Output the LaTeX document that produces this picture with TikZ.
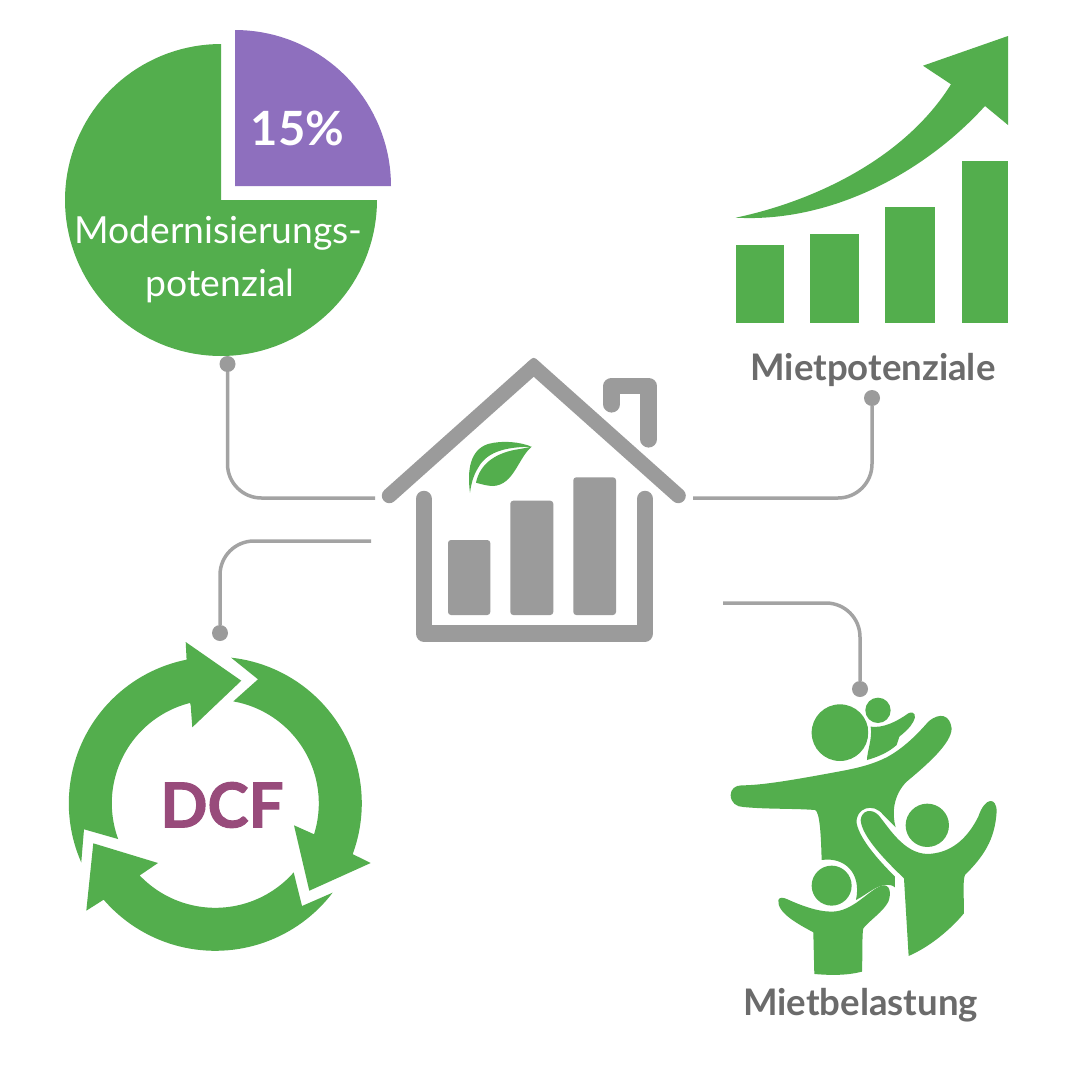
\documentclass[tikz,border=0pt]{standalone}
\usepackage{fontspec}
\setmainfont{Lato}
\newfontfamily\dcffont[FakeBold=1.6]{Lato Bold}
\definecolor{leafgreen}{HTML}{53AE4D}
\definecolor{pieviolet}{HTML}{8E6FBE}
\definecolor{dcfplum}{HTML}{984B7B}
\definecolor{labelgrey}{HTML}{6B6B6B}
\definecolor{housegrey}{HTML}{9B9B9B}
\definecolor{linegrey}{HTML}{A3A3A3}
\tikzset{
  conn/.style={draw=linegrey,line width=3.5pt,rounded corners=34pt},
  enddot/.style={circle,fill=housegrey,inner sep=0pt,minimum size=16pt},
  greenfill/.style={fill=leafgreen,draw=none},
  greybar/.style={fill=housegrey,draw=none,rounded corners=3pt},
  housestroke/.style={draw=housegrey,line cap=round,line join=round},
  boldlabel/.style={font=\bfseries\fontsize{36.6}{42}\selectfont,text=labelgrey,inner sep=0pt},
  pielabel/.style={font=\fontsize{37.3}{44}\selectfont,text=white,inner sep=0pt},
  haloed/.style={preaction={draw=white,line width=5.4pt,line join=round},fill=leafgreen}
}
\begin{document}
\begin{tikzpicture}[x=1pt,y=-1pt]
\useasboundingbox[fill=white] (0,0) rectangle (1080,1080);

% pie
\fill[greenfill] (221,200) -- plot[domain=-90:-360,samples=109] ({221+156*cos(\x)},{200+156*sin(\x)}) -- cycle;
\fill[fill=pieviolet] (235,186) -- plot[domain=-90:0,samples=37] ({235+156*cos(\x)},{186+156*sin(\x)}) -- cycle;
\node[font=\bfseries\fontsize{47.2}{52}\selectfont,text=white,inner sep=0pt] (pct) at (297.5,128) {15\%};
\node[pielabel] (mod1) at (218.5,233) {Modernisierungs-};
\node[pielabel] (mod2) at (220,286) {potenzial};

% rising chart
\fill[greenfill] (736,245) rectangle (784,323);
\fill[greenfill] (810,234) rectangle (859,323);
\fill[greenfill] (885,207) rectangle (935,323);
\fill[greenfill] (962,161) rectangle (1008,323);
\fill[greenfill] (735.7,217.7) .. controls (815,201) and (905,158) .. (951,84.3)
  -- (923,65.7) -- (1008,36) -- (1008,125) -- (985,106)
  .. controls (928,169) and (835,223) .. (735.7,217.7) -- cycle;
\node[boldlabel] (miet) at (873,370) {Mietpotenziale};

% house
\draw[housestroke,line width=15pt] (389.3,495.7) -- (533.7,366.7) -- (678.3,495.7);
\fill[housegrey,rounded corners=3.5pt] (524,366) -- (533.7,356.4) -- (543.4,366) -- cycle;
\draw[housestroke,line width=16.5pt] (423.8,499) -- (423.8,633.3) -- (645,633.3) -- (645,499);
\draw[housestroke,line width=16.5pt] (611.7,404.3) -- (611.7,386) -- (648.7,386) -- (648.7,439.3);
\fill[greybar] (448,540) rectangle (490.3,615);
\fill[greybar] (510.3,500.7) rectangle (553.3,615);
\fill[greybar] (573.3,477.3) rectangle (616,615);
\fill[greenfill] (470,492.7) .. controls (467,470) and (470,450) .. (488,444)
  .. controls (503,440) and (520,442) .. (531.7,446.7)
  .. controls (512,447) and (488,449) .. (478,468)
  .. controls (473,476) and (471,485) .. (470,492.7) -- cycle;
\fill[greenfill] (476,482.7) .. controls (480,463) and (497,452) .. (520,449)
  -- (531.7,446.7)
  .. controls (518,458) and (514,485) .. (493,486)
  .. controls (487,486) and (481,484) .. (476,482.7) -- cycle;

% DCF cycle
\fill[greenfill] plot[domain=156.2:258.7,samples=50] ({215.3+146.5*cos(\x)},{803.3+146.5*sin(\x)})
  -- (185.7,642) -- (241.3,680.7) -- (192.3,727.3) -- (190.7,705.3)
  -- plot[domain=255.9:159.8,samples=50] ({215.3+103.5*cos(\x)},{803.3+103.5*sin(\x)})
  -- (84,829.3) -- cycle;
\fill[greenfill] plot[domain=-83.8:20.3,samples=50] ({215.3+146.5*cos(\x)},{803.3+146.5*sin(\x)})
  -- (370.7,863) -- (309.3,890.7) -- (294,825.3) -- (315,834.7)
  -- plot[domain=17.5:-80,samples=50] ({215.3+103.5*cos(\x)},{803.3+103.5*sin(\x)})
  -- (258,679.3) -- cycle;
\fill[greenfill] plot[domain=37.3:139.2,samples=50] ({215.3+147.5*cos(\x)},{803.3+147.5*sin(\x)})
  -- (86.3,910.7) -- (93.3,843.3) -- (158,863) -- (139.3,875.7)
  -- plot[domain=136.4:41.4,samples=50] ({215.3+104.5*cos(\x)},{803.3+104.5*sin(\x)})
  -- (302,906) -- cycle;
\node[font=\dcffont\fontsize{62}{66}\selectfont,text=dcfplum,inner sep=0pt] (dcf) at (222,805) {DCF};

% family
\begin{scope}[shift={(720,680)},x=0.3333pt,y=-0.3333pt]
  \fill[greenfill] (360,158) circle (85);
  \path[haloed] (441,240) .. controls (441,215) and (458,175) .. (452,140)
    .. controls (490,145) and (530,125) .. (565,100)
    .. controls (585,90) and (590,110) .. (580,125)
    .. controls (570,145) and (550,160) .. (538,170)
    .. controls (532,178) and (536,188) .. (530,195)
    .. controls (505,218) and (470,232) .. (441,240) -- cycle;
  \path[haloed] (474,91) circle (38);
  \fill[greenfill] (65,316) .. controls (45,316) and (32,328) .. (32,345)
    .. controls (32,368) and (50,381) .. (70,381)
    .. controls (140,388) and (220,385) .. (285,390)
    .. controls (300,395) and (303,470) .. (305,540)
    .. controls (375,530) and (425,580) .. (408,660)
    .. controls (440,645) and (490,595) .. (525,622)
    -- (525,590)
    .. controls (480,545) and (420,480) .. (410,430)
    .. controls (405,385) and (460,365) .. (490,405)
    -- (527,442)
    .. controls (515,400) and (520,345) .. (560,305)
    .. controls (620,255) and (695,190) .. (695,145)
    .. controls (690,105) and (660,95) .. (625,125)
    .. controls (590,165) and (550,205) .. (500,232)
    .. controls (440,262) and (380,270) .. (300,285)
    .. controls (200,303) and (120,316) .. (65,316) -- cycle;
  \fill[greenfill] (622,436) circle (65);
  \fill[greenfill] (422,420) .. controls (425,390) and (455,385) .. (475,405)
    .. controls (505,440) and (550,520) .. (622,522)
    .. controls (690,520) and (740,480) .. (775,410)
    .. controls (795,350) and (830,350) .. (830,395)
    .. controls (825,480) and (790,530) .. (735,585)
    .. controls (728,600) and (732,650) .. (732,700)
    .. controls (690,750) and (630,800) .. (566,828)
    -- (552,595)
    .. controls (500,545) and (425,470) .. (422,420) -- cycle;
  \fill[greenfill] (335,617) circle (60);
  \fill[greenfill] (175,660) .. controls (180,650) and (190,653) .. (200,657)
    .. controls (240,675) and (290,695) .. (335,695)
    .. controls (400,695) and (445,630) .. (485,617)
    .. controls (510,610) and (515,640) .. (505,665)
    .. controls (490,695) and (450,720) .. (430,745)
    .. controls (426,760) and (428,820) .. (426,875)
    .. controls (380,887) and (330,886) .. (283,882)
    -- (280,757)
    .. controls (240,735) and (170,700) .. (175,660) -- cycle;
\end{scope}
\node[boldlabel] (last) at (860.5,1005) {Mietbelastung};

% connectors
\node[enddot] (dpie) at (227.5,364) {};
\coordinate (epie) at (375,498);
\draw[conn] (dpie) |- (epie);
\node[enddot] (dmiet) at (872,398) {};
\coordinate (emiet) at (693,498);
\draw[conn] (dmiet) |- (emiet);
\node[enddot] (ddcf) at (220,633) {};
\coordinate (edcf) at (371,541);
\draw[conn] (ddcf) |- (edcf);
\node[enddot] (dlast) at (860,689) {};
\coordinate (elast) at (723,603);
\draw[conn] (dlast) |- (elast);
\end{tikzpicture}
\end{document}
